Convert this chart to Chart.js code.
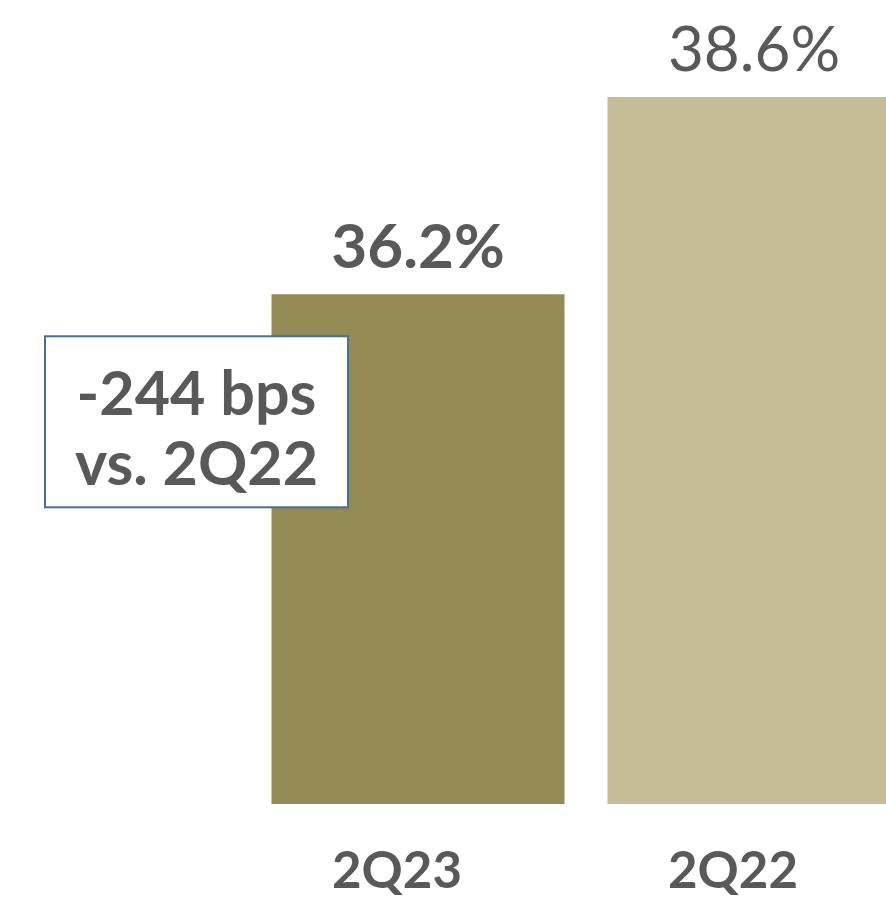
<!DOCTYPE html>
<html lang="en">
<head>
    <meta charset="UTF-8">
    <title>2Q23 vs 2Q22</title>
    <style>
      html, body { margin: 0; padding: 0; background: #fff; overflow: hidden; }
      #wrap { width: 922px; height: 898px; }
    </style>
</head>
<body>
<div id="wrap"><canvas id="marginChart" width="922" height="898"></canvas></div>

<script src="https://cdn.jsdelivr.net/npm/chart.js"></script>
<script>
  const quarters = ['2Q23', '2Q22'];
  const marginPct = [36.2, 38.6];
  const barColors = ['#948A54', '#C4BD97'];
  const calloutLines = ['-244 bps', 'vs. 2Q22'];

  const textColor = '#595959';
  const fontFamily = 'Lato, "DejaVu Sans", sans-serif';

  // value labels above the bars, first one in bold
  const valueLabels = {
    id: 'valueLabels',
    afterDatasetsDraw(chart) {
      const ctx = chart.ctx;
      const meta = chart.getDatasetMeta(0);
      ctx.save();
      ctx.fillStyle = textColor;
      ctx.textAlign = 'center';
      ctx.textBaseline = 'alphabetic';
      meta.data.forEach((bar, i) => {
        ctx.font = (i === 0 ? 'bold ' : '') + '62px ' + fontFamily;
        ctx.fillText(marginPct[i].toFixed(1) + '%', bar.x, bar.y - 26);
      });
      ctx.restore();
    }
  };

  // boxed note sitting over the left edge of the first bar
  const callout = {
    id: 'callout',
    afterDraw(chart) {
      const ctx = chart.ctx;
      const bar = chart.getDatasetMeta(0).data[0];
      const left = bar.x - 373, top = bar.y + 42, w = 303, h = 171;
      ctx.save();
      ctx.fillStyle = '#ffffff';
      ctx.fillRect(left, top, w, h);
      ctx.strokeStyle = '#41719C';
      ctx.lineWidth = 2;
      ctx.strokeRect(left, top, w, h);
      ctx.fillStyle = textColor;
      ctx.font = 'bold 61px ' + fontFamily;
      ctx.textAlign = 'center';
      ctx.textBaseline = 'alphabetic';
      ctx.fillText(calloutLines[0], left + w / 2, top + 79);
      ctx.fillText(calloutLines[1], left + w / 2, top + 149);
      ctx.restore();
    }
  };

  const chart = new Chart(document.getElementById('marginChart'), {
    type: 'bar',
    data: {
      labels: quarters,
      datasets: [{
        data: marginPct,
        backgroundColor: barColors,
        borderWidth: 0,
        categoryPercentage: 1,
        barPercentage: 0.872
      }]
    },
    options: {
      responsive: false,
      animation: false,
      layout: { padding: { left: 250, top: 23, right: 0, bottom: 0 } },
      plugins: {
        legend: { display: false },
        tooltip: { enabled: false }
      },
      scales: {
        x: {
          grid: { display: false },
          border: { display: false },
          ticks: {
            color: textColor,
            font: { family: fontFamily, size: 51, weight: 'bold', lineHeight: 1 },
            padding: 34,
            labelOffset: -21,
            maxRotation: 0
          },
          afterFit: s => { s.height = 94; }
        },
        y: {
          display: false,
          min: 30,
          max: 39.5
        }
      }
    },
    plugins: [valueLabels, callout]
  });
</script>
</body>
</html>
